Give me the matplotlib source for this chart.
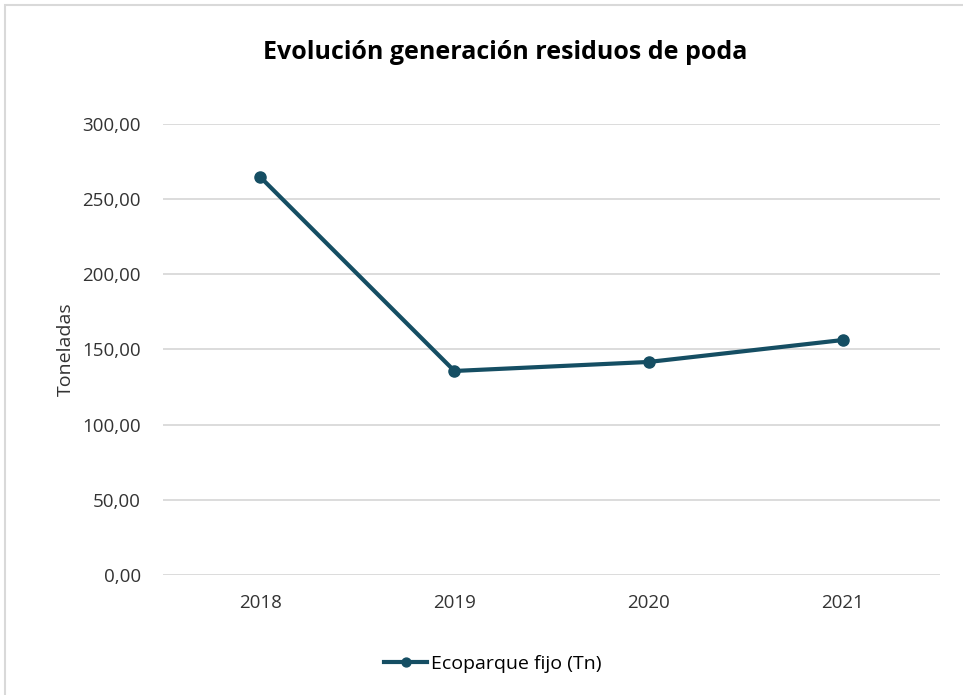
import matplotlib.pyplot as plt
from matplotlib.patches import Rectangle

years = ["2018", "2019", "2020", "2021"]
toneladas = [264.8, 135.7, 141.7, 156.3]
yticks = [0, 50, 100, 150, 200, 250, 300]

color = "#154e63"
plt.rcParams['font.family'] = ['Open Sans', 'DejaVu Sans']

fig = plt.figure(figsize=(9.63, 6.95), dpi=100)
ax = fig.add_axes([0.1693, 0.1727, 0.8069, 0.6489])

x = list(range(len(years)))
ax.plot(x, toneladas, color=color, lw=3, marker="o", ms=8, label="Ecoparque fijo (Tn)")

ax.set_xlim(-0.5, 3.5)
ax.set_ylim(0, 300)
ax.set_xticks(x)
ax.set_xticklabels(years)
ax.set_yticks(yticks)
ax.set_yticklabels([f"{v:.2f}".replace(".", ",") for v in yticks])
ax.tick_params(length=0, labelsize=13.5, colors="#333333", pad=16)
ax.tick_params(axis="x", pad=14)
ax.grid(axis="y", color="#d9d9d9", lw=1.3)
ax.set_axisbelow(True)
for s in ax.spines.values():
    s.set_visible(False)

ax.set_ylabel("Toneladas", fontsize=14, color="#333333", labelpad=5)

fig.text(0.525, 0.925, "Evolución generación residuos de poda", ha="center", va="center",
         fontsize=18, fontweight="bold", color="black")

fig.legend(loc="center", bbox_to_anchor=(0.512, 0.045), frameon=False, fontsize=14,
           handlelength=2.2, handletextpad=0.2, markerscale=0.8)

fig.patches.append(Rectangle((5 / 963, -0.01), 1.1, 1 - 5 / 695 + 0.01, transform=fig.transFigure,
                             fill=False, edgecolor="#d9d9d9", lw=1.5))

fig.savefig("out.png", dpi=100)
